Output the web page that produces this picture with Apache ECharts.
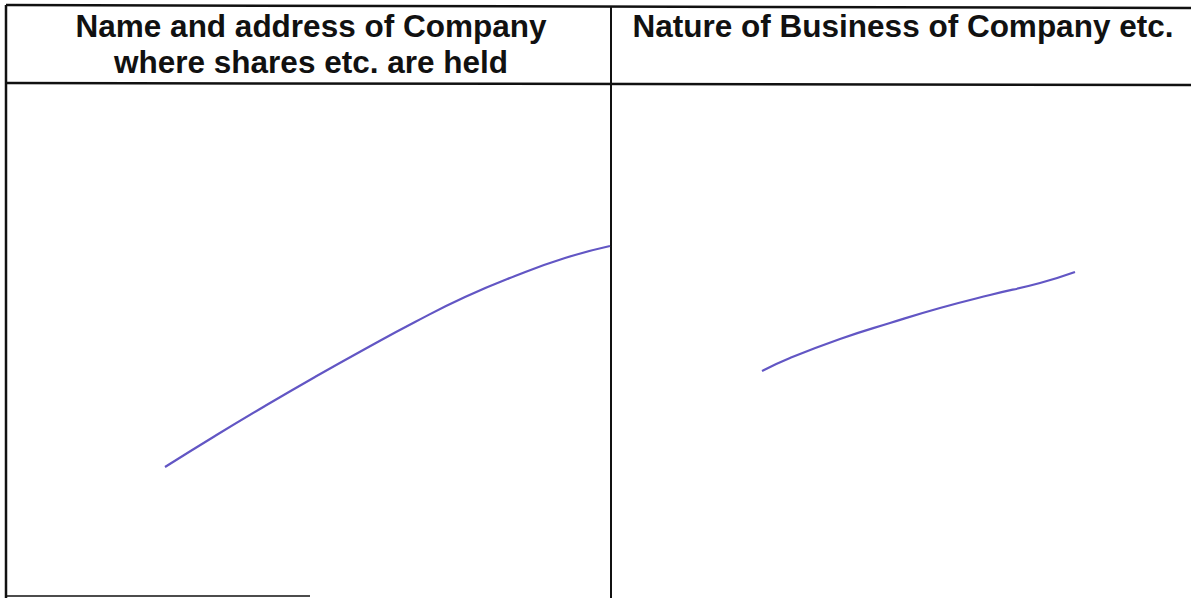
<!DOCTYPE html>
<html><head><meta charset="utf-8">
<script src="https://cdn.jsdelivr.net/npm/echarts@6/dist/echarts.min.js"></script>
<style>html,body{margin:0;padding:0;background:#fff}#c{width:1191px;height:598px}</style>
</head><body><div id="c"></div>
<script>
// Header texts
const headerLeft = 'Name and address of Company\nwhere shares etc. are held';
const headerRight = 'Nature of Business of Company etc.';
// Table rule lines [x, y] in page units
const ruleTop = [[6, 5], [1191, 8]];
const ruleHeader = [[6, 83], [1191, 85]];
const ruleLeft = [[6, 5], [6, 598]];
const ruleMiddle = [[611, 6], [611, 598]];
const ruleBottom = [[6, 596], [310, 596]];
// Hand-drawn pen strokes [x, y]
const strokeLeft = [[165, 467], [215, 436], [265, 406], [315, 377], [365, 349], [415, 322], [465, 297], [515, 276], [565, 258], [610, 246]];
const strokeRight = [[762, 371], [790, 358], [840, 339], [890, 323], [940, 308], [990, 295], [1040, 283], [1075, 272]];

function rule(data, w) {
  return { type: 'line', data: data, showSymbol: false, silent: true,
    lineStyle: { color: '#111', width: w }, animation: false };
}
function stroke(data) {
  return { type: 'line', data: data, smooth: true, showSymbol: false, silent: true,
    lineStyle: { color: '#6256c4', width: 2.2 }, animation: false };
}
const chart = echarts.init(document.getElementById('c'), null, { renderer: 'svg' });
chart.setOption({
  backgroundColor: '#fff',
  animation: false,
  grid: { left: 0, right: 0, top: 0, bottom: 0 },
  xAxis: { type: 'value', min: 0, max: 1191, show: false },
  yAxis: { type: 'value', min: 0, max: 598, inverse: true, show: false },
  series: [
    rule(ruleTop, 2.5), rule(ruleHeader, 2.5), rule(ruleLeft, 2.5),
    rule(ruleMiddle, 2), rule(ruleBottom, 1.5),
    stroke(strokeLeft), stroke(strokeRight)
  ],
  graphic: [
    { type: 'text', x: 311, y: 8, silent: true,
      style: { text: headerLeft, align: 'center', verticalAlign: 'top',
        font: 'bold 31.5px "Liberation Sans", Arial, sans-serif', lineHeight: 36, fill: '#111' } },
    { type: 'text', x: 903, y: 8, silent: true,
      style: { text: headerRight, align: 'center', verticalAlign: 'top',
        font: 'bold 31.5px "Liberation Sans", Arial, sans-serif', lineHeight: 36, fill: '#111' } }
  ]
});
</script></body></html>
